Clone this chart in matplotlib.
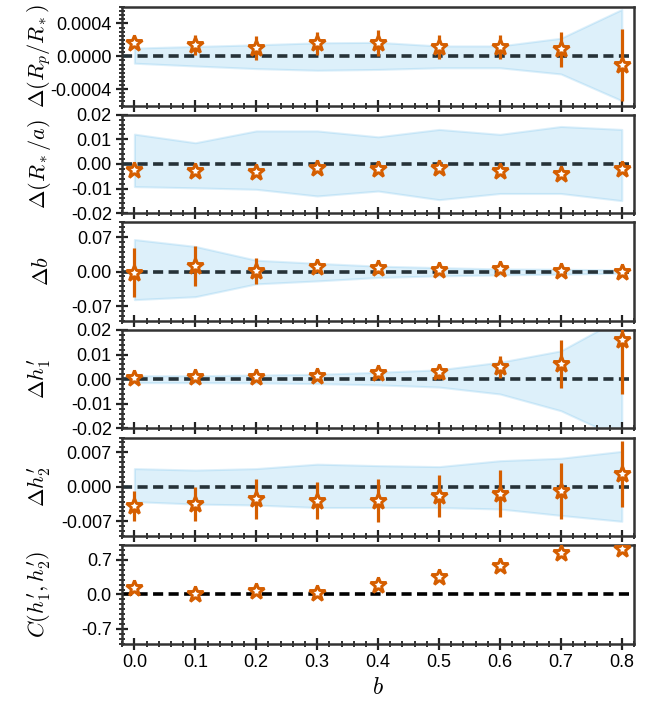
import matplotlib
matplotlib.use("Agg")
import matplotlib.pyplot as plt
from matplotlib.ticker import MultipleLocator

plt.rcParams['mathtext.fontset'] = 'cm'
plt.rcParams['font.family'] = 'Liberation Sans'
plt.rcParams['axes.unicode_minus'] = False

# impact parameter grid
b_vals = [0.0, 0.1, 0.2, 0.3, 0.4, 0.5, 0.6, 0.7, 0.8]
x_ticklabels = ['0.0', '0.1', '0.2', '0.3', '0.4', '0.5', '0.6', '0.7', '0.8']

# Delta(Rp/R*)
rp_val = [1.56e-4, 1.35e-4, 1.0e-4, 1.56e-4, 1.64e-4, 1.14e-4, 1.14e-4, 0.84e-4, -1.1e-4]
rp_err = [0.3e-4, 1.25e-4, 1.5e-4, 1.4e-4, 1.6e-4, 1.5e-4, 1.5e-4, 2.1e-4, 4.4e-4]
rp_hi = [1.0e-4, 1.2e-4, 1.4e-4, 1.64e-4, 1.7e-4, 1.26e-4, 1.26e-4, 2.2e-4, 5.7e-4]
rp_lo = [-0.84e-4, -1.18e-4, -1.5e-4, -1.7e-4, -1.6e-4, -1.4e-4, -1.4e-4, -2.15e-4, -5.4e-4]

# Delta(R*/a)
ra_val = [-0.0023, -0.0028, -0.0032, -0.0018, -0.002, -0.0018, -0.0028, -0.0039, -0.002]
ra_err = [0.0008, 0.0008, 0.0008, 0.0008, 0.0008, 0.0008, 0.0008, 0.0008, 0.0008]
ra_hi = [0.0121, 0.0086, 0.0134, 0.0134, 0.011, 0.014, 0.012, 0.0152, 0.014]
ra_lo = [-0.0092, -0.0097, -0.0103, -0.013, -0.011, -0.0145, -0.012, -0.012, -0.0149]

# Delta b
db_val = [-0.002, 0.011, 0.0013, 0.0087, 0.0067, 0.0033, 0.0047, 0.002, 0.0]
db_err = [0.049, 0.04, 0.027, 0.008, 0.005, 0.003, 0.002, 0.002, 0.001]
db_hi = [0.065, 0.051, 0.023, 0.0167, 0.011, 0.008, 0.0053, 0.0047, 0.0033]
db_lo = [-0.057, -0.051, -0.025, -0.019, -0.012, -0.0087, -0.0067, -0.0053, -0.0033]

# Delta h'1
h1_val = [0.0006, 0.0007, 0.0007, 0.0013, 0.0024, 0.0031, 0.0048, 0.0062, 0.0158]
h1_err = [0.0004, 0.0005, 0.0007, 0.001, 0.0015, 0.003, 0.0045, 0.0097, 0.022]
h1_hi = [0.0014, 0.0014, 0.0017, 0.002, 0.0028, 0.0038, 0.0069, 0.0115, 0.025]
h1_lo = [-0.0014, -0.0014, -0.0015, -0.0018, -0.0023, -0.0032, -0.006, -0.0128, -0.0242]

# Delta h'2
h2_val = [-0.0039, -0.0035, -0.0025, -0.0028, -0.0028, -0.0019, -0.0014, -0.0008, 0.0026]
h2_err = [0.003, 0.0034, 0.004, 0.0038, 0.0043, 0.0043, 0.0048, 0.0057, 0.0067]
h2_hi = [0.0037, 0.0034, 0.0037, 0.0046, 0.0043, 0.0041, 0.0053, 0.0058, 0.0072]
h2_lo = [-0.003, -0.0035, -0.0037, -0.0042, -0.0042, -0.0042, -0.0045, -0.0058, -0.007]

# correlation C(h'1, h'2)
corr_val = [0.13, 0.014, 0.062, 0.034, 0.185, 0.357, 0.583, 0.837, 0.92]

ORANGE = '#D55E00'
BLUE = '#56B4E9'
SPINE = '#333333'

panels = [
    (r'$\Delta(R_p/R_*)$', rp_val, rp_err, rp_lo, rp_hi, 0.0006, [-0.0004, 0.0, 0.0004], ['-0.0004', '0.0000', '0.0004'], 0.00005),
    (r'$\Delta(R_*/a)$', ra_val, ra_err, ra_lo, ra_hi, 0.02, [-0.02, -0.01, 0.0, 0.01, 0.02], ['-0.02', '-0.01', '0.00', '0.01', '0.02'], 0.002),
    (r'$\Delta b$', db_val, db_err, db_lo, db_hi, 0.1, [-0.07, 0.0, 0.07], ['-0.07', '0.00', '0.07'], 0.01),
    (r'$\Delta h^{\prime}_1$', h1_val, h1_err, h1_lo, h1_hi, 0.02, [-0.02, -0.01, 0.0, 0.01, 0.02], ['-0.02', '-0.01', '0.00', '0.01', '0.02'], 0.002),
    (r'$\Delta h^{\prime}_2$', h2_val, h2_err, h2_lo, h2_hi, 0.01, [-0.007, 0.0, 0.007], ['-0.007', '0.000', '0.007'], 0.001),
    (r'$C(h^{\prime}_1, h^{\prime}_2)$', corr_val, None, None, None, 1.0, [-0.7, 0.0, 0.7], ['-0.7', '0.0', '0.7'], 0.1),
]

fig, axs = plt.subplots(6, 1, figsize=(6.57, 7.02), dpi=100, sharex=True)
fig.subplots_adjust(left=0.186, right=0.965, top=0.990, bottom=0.083, hspace=0.092)

for ax, (label, val, err, lo, hi, lim, ticks, ticklabels, minor) in zip(axs, panels):
    if lo is not None:
        ax.fill_between(b_vals, lo, hi, color=BLUE, alpha=0.2, lw=1.5, zorder=1)
    line_col = 'black' if err is None else '#263238'
    ax.axhline(0, color=line_col, ls='--', lw=2.6, dashes=(2.8, 1.5), zorder=2)
    if err is not None:
        ax.errorbar(b_vals, val, yerr=err, fmt='none', ecolor=ORANGE, elinewidth=2.3, capsize=0, zorder=3)
    ax.plot(b_vals, val, ls='none', marker='*', ms=12, mfc='white', mec=ORANGE, mew=2.1, zorder=4)

    ax.set_ylim(-lim, lim)
    ax.set_yticks(ticks)
    ax.set_yticklabels(ticklabels)
    ax.yaxis.set_minor_locator(MultipleLocator(minor))
    ax.set_ylabel(label, fontsize=16)
    ax.yaxis.set_label_coords(-0.135, 0.5)

    ax.set_xlim(-0.02, 0.82)
    ax.set_xticks(b_vals)
    ax.xaxis.set_minor_locator(MultipleLocator(0.02))

    for s in ax.spines.values():
        s.set_color(SPINE)
        s.set_linewidth(1.8)
    ax.tick_params(which='major', direction='inout', length=8, width=1.6, color='#222222', labelsize=13,
                   top=False, right=False)
    ax.tick_params(which='minor', direction='inout', length=5, width=1.3, color='#222222',
                   top=False, right=False)

axs[-1].set_xticklabels(x_ticklabels)
axs[-1].set_xlabel(r'$b$', fontsize=17)

fig.savefig('out.png', dpi=100)
